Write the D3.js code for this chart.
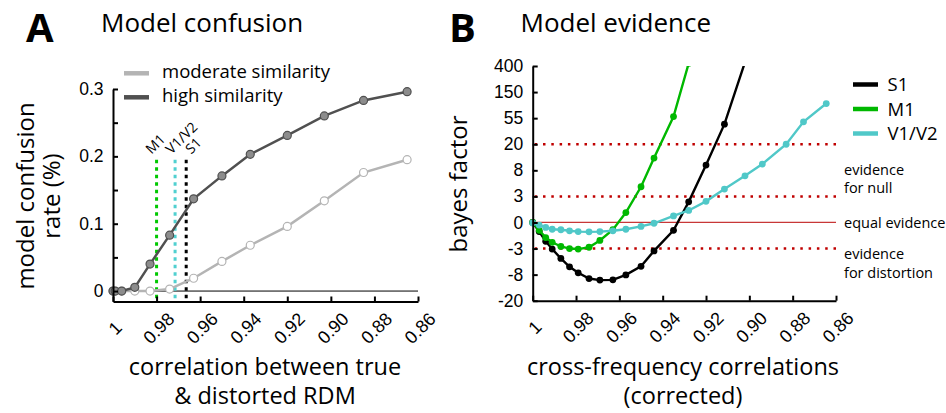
<!DOCTYPE html>
<html>
<head>
<meta charset="utf-8">
<script src="https://cdn.jsdelivr.net/npm/d3@7"></script>
<style>
  body { margin: 0; background: #fff; }
  svg { display: block; font-family: "Open Sans", sans-serif; }
  .axis path, .axis line { stroke: #000; stroke-width: 2; }
  .axis text { font-size: 17.5px; fill: #000; }
</style>
</head>
<body>
<script>

// ---- Panel A: model confusion ----
var corrA = [1, 0.999, 0.996, 0.990, 0.983, 0.974, 0.963, 0.950, 0.937, 0.920, 0.903, 0.885, 0.865];
var confHigh = [0, 0, 0, 0.0055, 0.040, 0.083, 0.137, 0.171, 0.203, 0.231, 0.260, 0.283, 0.296];
var confModerate = [0, 0, 0, 0, 0, 0.003, 0.019, 0.044, 0.068, 0.096, 0.134, 0.176, 0.195];
var regionNames = ["M1", "V1/V2", "S1"];
var regionCorr = [0.980, 0.9715, 0.9664];
var confTicks = [0, 0.05, 0.1, 0.15, 0.2, 0.25, 0.3];
var corrTicks = [1, 0.98, 0.96, 0.94, 0.92, 0.90, 0.88, 0.86];
var corrTickLabels = ["1", "0.98", "0.96", "0.94", "0.92", "0.90", "0.88", "0.86"];

// ---- Panel B: model evidence (signed log bayes factor) ----
var corrB = [1, 0.997, 0.994, 0.991, 0.987, 0.983, 0.979, 0.974, 0.969, 0.963, 0.957, 0.950,
             0.944, 0.935, 0.928, 0.920, 0.9115, 0.902, 0.894, 0.883, 0.875, 0.8645];
var bfS1 = [0, -0.35, -0.72, -1.02, -1.38, -1.70, -1.93, -2.15, -2.21, -2.20, -2.01, -1.68,
            -1.09, -0.30, 0.79, 2.20, 3.77, 6.15];
var bfM1 = [0, -0.30, -0.58, -0.76, -0.92, -1.00, -1.02, -0.95, -0.69, -0.28, 0.38, 1.37,
            2.47, 4.06, 6.1];
var bfV1 = [-0.02, -0.10, -0.19, -0.26, -0.28, -0.32, -0.35, -0.36, -0.35, -0.32, -0.26, -0.15,
            -0.03, 0.25, 0.46, 0.81, 1.28, 1.79, 2.24, 3.00, 3.86, 4.56];
var bfTicks = [-3, -2, -1, 0, 1, 2, 3, 4, 5, 6];
var bfTickLabels = ["-20", "-8", "-3", "0", "3", "8", "20", "55", "150", "400"];
var bfDotted = [3, 1, -1];
var seriesNames = ["S1", "M1", "V1/V2"];
var seriesColors = ["#000000", "#00b800", "#50c8c8"];
var zoneText = [["evidence", "for null"], ["equal evidence"], ["evidence", "for distortion"]];

var svg = d3.select("body").append("svg")
    .attr("width", 946)
    .attr("height", 413);

// ================= Panel A =================
var xA = d3.scaleLinear().domain([1, 0.86]).range([113, 418]);
var yA = d3.scaleLinear().domain([-0.0155, 0.3]).range([301.5, 89]);

var gA = svg.append("g");

gA.append("text").attr("x", 26).attr("y", 41.5)
    .style("font-size", "40px").style("font-weight", "bold").text("A");
gA.append("text").attr("x", 101).attr("y", 31.5)
    .style("font-size", "26px").text("Model confusion");

// zero line
gA.append("line")
    .attr("x1", xA(1)).attr("x2", xA(0.86))
    .attr("y1", yA(0)).attr("y2", yA(0))
    .attr("stroke", "#000").attr("stroke-width", 1);

// region dotted markers
var regionColors = ["#00c800", "#50d0d0", "#000000"];
var labelDx = [-5, -3.5, 5];
regionCorr.forEach(function(c, i) {
  gA.append("line")
      .attr("x1", xA(c)).attr("x2", xA(c))
      .attr("y1", yA(0.195)).attr("y2", yA(-0.0155))
      .attr("stroke", regionColors[i]).attr("stroke-width", 3)
      .attr("stroke-dasharray", "3.5,4");
  gA.append("text")
      .attr("transform", "translate(" + (xA(c) + labelDx[i]) + "," + (yA(0.195) - 5) + ") rotate(-45)")
      .style("font-size", "14px")
      .text(regionNames[i]);
});

var lineA = d3.line()
    .x(function(d) { return xA(d[0]); })
    .y(function(d) { return yA(d[1]); });

function drawConf(vals, lineColor, fill) {
  var pts = corrA.map(function(c, i) { return [c, vals[i]]; });
  gA.append("path").datum(pts)
      .attr("d", lineA)
      .attr("fill", "none").attr("stroke", lineColor).attr("stroke-width", 2.5);
  gA.selectAll(null).data(pts).enter().append("circle")
      .attr("cx", function(d) { return xA(d[0]); })
      .attr("cy", function(d) { return yA(d[1]); })
      .attr("r", 4)
      .attr("fill", fill).attr("stroke", lineColor).attr("stroke-width", 1.2);
}
drawConf(confModerate, "#b4b4b4", "#ffffff");
drawConf(confHigh, "#505050", "#8c8c8c");

// axes
gA.append("g").attr("class", "axis")
    .attr("transform", "translate(" + xA(1) + ",0)")
    .call(d3.axisLeft(yA).tickValues(confTicks).tickSizeInner(-5).tickSizeOuter(0).tickPadding(9.5)
      .tickFormat(function(d) {
        var k = Math.round(d * 100);
        if (k === 0) return "0";
        return k % 10 === 0 ? d3.format(".1f")(d) : "";
      }));

var axAx = gA.append("g").attr("class", "axis")
    .attr("transform", "translate(0," + yA(-0.0155) + ")")
    .call(d3.axisBottom(xA).tickValues(corrTicks).tickSizeInner(-5).tickSizeOuter(0)
      .tickFormat(function(d, i) { return corrTickLabels[i]; }));
axAx.selectAll("text")
    .attr("x", 0).attr("y", 0).attr("dy", null)
    .attr("text-anchor", "middle")
    .style("font-size", "18px")
    .attr("transform", "translate(6,31) rotate(-45)");

// legend A
var legA = [["moderate similarity", "#b4b4b4"], ["high similarity", "#505050"]];
legA.forEach(function(d, i) {
  var y = 73.3 + i * 24;
  gA.append("line").attr("x1", 124).attr("x2", 149).attr("y1", y).attr("y2", y)
      .attr("stroke", d[1]).attr("stroke-width", 4.5);
  gA.append("text").attr("x", 162).attr("y", y + 5)
      .style("font-size", "18.5px").text(d[0]);
});

// axis labels A
gA.append("text")
    .attr("transform", "translate(34,196) rotate(-90)")
    .attr("text-anchor", "middle").style("font-size", "24px")
    .text("model confusion");
gA.append("text")
    .attr("transform", "translate(59.5,196) rotate(-90)")
    .attr("text-anchor", "middle").style("font-size", "24px")
    .text("rate (%)");
gA.append("text").attr("x", 265).attr("y", 375)
    .attr("text-anchor", "middle").style("font-size", "23.5px")
    .text("correlation between true");
gA.append("text").attr("x", 265).attr("y", 404)
    .attr("text-anchor", "middle").style("font-size", "23.5px")
    .text("& distorted RDM");

// ================= Panel B =================
var xB = d3.scaleLinear().domain([1, 0.86]).range([532.7, 836]);
var yB = d3.scaleLinear().domain([-3, 6]).range([300.7, 66]);

var gB = svg.append("g");

gB.append("text").attr("x", 449).attr("y", 41.5)
    .style("font-size", "40px").style("font-weight", "bold").text("B");
gB.append("text").attr("x", 520.5).attr("y", 31.5)
    .style("font-size", "26px").text("Model evidence");

svg.append("clipPath").attr("id", "clipB")
  .append("rect")
    .attr("x", xB(1) - 10).attr("y", yB(6))
    .attr("width", xB(0.86) - xB(1) + 20).attr("height", yB(-3) - yB(6));

// reference levels
bfDotted.forEach(function(v) {
  gB.append("line")
      .attr("x1", xB(1) + 2).attr("x2", xB(0.86))
      .attr("y1", yB(v)).attr("y2", yB(v))
      .attr("stroke", "#c00000").attr("stroke-width", 2.5)
      .attr("stroke-dasharray", "2.5,5.8");
});
gB.append("line")
    .attr("x1", xB(1)).attr("x2", xB(0.86))
    .attr("y1", yB(0)).attr("y2", yB(0))
    .attr("stroke", "#c83737").attr("stroke-width", 1.2);

var lineB = d3.line()
    .x(function(d) { return xB(d[0]); })
    .y(function(d) { return yB(d[1]); });

var plotB = gB.append("g").attr("clip-path", "url(#clipB)");
[bfS1, bfM1, bfV1].forEach(function(vals, k) {
  var pts = vals.map(function(v, i) { return [corrB[i], v]; });
  plotB.append("path").datum(pts)
      .attr("d", lineB)
      .attr("fill", "none").attr("stroke", seriesColors[k]).attr("stroke-width", 2.4);
  plotB.selectAll(null).data(pts).enter().append("circle")
      .attr("cx", function(d) { return xB(d[0]); })
      .attr("cy", function(d) { return yB(d[1]); })
      .attr("r", 3.4)
      .attr("fill", seriesColors[k]);
});

// axes B
gB.append("g").attr("class", "axis")
    .attr("transform", "translate(" + xB(1) + ",0)")
    .call(d3.axisLeft(yB).tickValues(bfTicks).tickSizeInner(-5).tickSizeOuter(0).tickPadding(9.5)
      .tickFormat(function(d, i) { return bfTickLabels[i]; }));

var axBx = gB.append("g").attr("class", "axis")
    .attr("transform", "translate(0," + yB(-3) + ")")
    .call(d3.axisBottom(xB).tickValues(corrTicks).tickSizeInner(-5).tickSizeOuter(0)
      .tickFormat(function(d, i) { return corrTickLabels[i]; }));
axBx.selectAll("text")
    .attr("x", 0).attr("y", 0).attr("dy", null)
    .attr("text-anchor", "middle")
    .style("font-size", "18px")
    .attr("transform", "translate(6,31) rotate(-45)");

// legend B
seriesNames.forEach(function(name, i) {
  var y = 84.5 + i * 24.5;
  gB.append("line").attr("x1", 853).attr("x2", 878).attr("y1", y).attr("y2", y)
      .attr("stroke", seriesColors[i]).attr("stroke-width", 4.5);
  gB.append("text").attr("x", 887.5).attr("y", y + 6.6)
      .style("font-size", "18.5px").text(name);
});

// zone annotations
var zoneY = [[174.5, 193], [227.5], [259, 277.5]];
zoneText.forEach(function(lines, i) {
  lines.forEach(function(t, j) {
    gB.append("text").attr("x", 844).attr("y", zoneY[i][j])
        .style("font-size", "14.5px").text(t);
  });
});

// axis labels B
gB.append("text")
    .attr("transform", "translate(467,184) rotate(-90)")
    .attr("text-anchor", "middle").style("font-size", "24px")
    .text("bayes factor");
gB.append("text").attr("x", 683).attr("y", 375)
    .attr("text-anchor", "middle").style("font-size", "23.5px")
    .text("cross-frequency correlations");
gB.append("text").attr("x", 683).attr("y", 404)
    .attr("text-anchor", "middle").style("font-size", "23.5px")
    .text("(corrected)");

</script>
</body>
</html>
